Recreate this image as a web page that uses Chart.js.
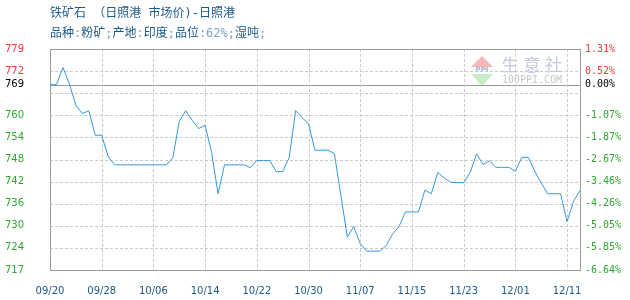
<!DOCTYPE html>
<html><head><meta charset="utf-8">
<script src="https://cdn.jsdelivr.net/npm/chart.js@4/dist/chart.umd.min.js"></script>
<style>html,body{margin:0;padding:0;background:#fff;}canvas{display:block;}</style>
</head><body>
<canvas id="c" width="630" height="300"></canvas>
<script>
const titleLine1 = '铁矿石 （日照港 市场价)-日照港';
const titleLine2 = '品种:粉矿;产地:印度;品位:62%;湿吨;';

const dates = [
 '09/20','09/21','09/22','09/23','09/24','09/25','09/26','09/27','09/28','09/29','09/30',
 '10/01','10/02','10/03','10/04','10/05','10/06','10/07','10/08','10/09','10/10','10/11','10/12','10/13','10/14','10/15','10/16','10/17','10/18','10/19','10/20','10/21','10/22','10/23','10/24','10/25','10/26','10/27','10/28','10/29','10/30','10/31',
 '11/01','11/02','11/03','11/04','11/05','11/06','11/07','11/08','11/09','11/10','11/11','11/12','11/13','11/14','11/15','11/16','11/17','11/18','11/19','11/20','11/21','11/22','11/23','11/24','11/25','11/26','11/27','11/28','11/29','11/30',
 '12/01','12/04','12/05','12/06','12/07','12/08','12/09','12/10','12/11','12/12','12/13'
];

const prices = [
 769, 769, 773.8, 769.2, 763.2, 760.9, 761.7, 754.8, 754.8, 748.8,
 746.5, 746.5, 746.5, 746.5, 746.5, 746.5, 746.5, 746.5, 746.5, 748.5,
 758.7, 761.7, 759.0, 756.7, 757.6, 750.0, 738.4, 746.5, 746.5, 746.5,
 746.5, 745.7, 747.7, 747.7, 747.7, 744.6, 744.6, 748.5, 761.7, 759.8,
 757.9, 750.6, 750.6, 750.6, 749.7, 738.0, 726.2, 729.2, 724.4, 722.3,
 722.3, 722.3, 723.8, 727.1, 729.2, 733.3, 733.3, 733.3, 739.4, 738.4,
 744.4, 742.8, 741.6, 741.5, 741.5, 744.3, 749.6, 746.6, 747.6, 745.8,
 745.8, 745.8, 744.7, 748.6, 748.6, 744.7, 741.4, 738.4, 738.4, 738.4,
 730.6, 736.3, 739.3
];

const xTickEvery = 8;
const yMin = 717, yMax = 779, baseValue = 769;
const yTickValues = [717, 723.2, 729.4, 735.6, 741.8, 748, 754.2, 760.4, 766.6, 769, 772.8, 779];
const leftTickLabels = ['717','724','730','736','742','748','754','760','','769','772','779'];
const rightTickLabels = ['-6.64%','-5.85%','-5.05%','-4.26%','-3.46%','-2.67%','-1.87%','-1.07%','','0.00%','0.52%','1.31%'];

const RED = '#f03a3a', GREEN = '#2fa82f', BLACK = '#000000', BLUE_TXT = '#1b5a8c';
function tickColor(ctx) {
  const v = ctx.tick ? ctx.tick.value : 0;
  if (v > baseValue) return RED;
  if (v === baseValue) return BLACK;
  return GREEN;
}

const decor = {
  id: 'decor',
  beforeDatasetsDraw(chart) {
    const {ctx, chartArea: a, scales: {x, y}} = chart;
    ctx.save();
    ctx.lineWidth = 1;
    // watermark
    ctx.fillStyle = '#f5b8b8';
    ctx.beginPath(); ctx.moveTo(471, 67); ctx.lineTo(482, 56); ctx.lineTo(493, 67); ctx.closePath(); ctx.fill();
    ctx.fillStyle = '#c6ecc8';
    ctx.beginPath(); ctx.moveTo(471, 74); ctx.lineTo(493, 74); ctx.lineTo(482, 86); ctx.closePath(); ctx.fill();
    ctx.fillStyle = '#a8b2d0';
    ctx.font = 'bold 7px "DejaVu Sans"';
    ctx.textAlign = 'center'; ctx.textBaseline = 'middle';
    ctx.fillText('PPI', 482, 70.5);
    ctx.fillStyle = '#c4c9e0';
    ctx.font = '17px "Noto Sans CJK SC"';
    ['生','意','社'].forEach((c, i) => ctx.fillText(c, 510 + i * 21.7, 65));
    ctx.fillStyle = '#c6c6c6';
    ctx.font = '10px "DejaVu Sans Mono"';
    ctx.fillText('100PPI.COM', 532, 80.5);
    // horizontal grid
    yTickValues.forEach(v => {
      if (v === yMin || v === yMax) return;
      const py = Math.round(y.getPixelForValue(v)) + 0.5;
      if (v === baseValue) { ctx.setLineDash([]); ctx.strokeStyle = '#9a9a9a'; }
      else { ctx.setLineDash([3, 2]); ctx.strokeStyle = '#cacaca'; }
      ctx.beginPath(); ctx.moveTo(a.left, py); ctx.lineTo(a.right, py); ctx.stroke();
    });
    // vertical grid
    ctx.setLineDash([3, 2]); ctx.strokeStyle = '#cacaca';
    dates.forEach((d, i) => {
      if (i === 0 || i % xTickEvery) return;
      const px = Math.round(x.getPixelForValue(i)) + 0.5;
      ctx.beginPath(); ctx.moveTo(px, a.top); ctx.lineTo(px, a.bottom); ctx.stroke();
    });
    // border
    ctx.setLineDash([]); ctx.strokeStyle = '#9a9a9a';
    ctx.strokeRect(Math.round(a.left) + 0.5, Math.round(a.top) + 0.5, Math.round(a.right - a.left), Math.round(a.bottom - a.top));
    ctx.restore();
  },
  afterDraw(chart) {
    const ctx = chart.ctx;
    ctx.save();
    ctx.font = '12px "DejaVu Sans Mono", "Noto Sans CJK SC"';
    ctx.textBaseline = 'middle'; ctx.textAlign = 'left';
    const drawLine = (txt, x0, yy) => {
      let xx = x0;
      for (const ch of txt) {
        ctx.fillStyle = /[:;0-9%]/.test(ch) ? '#7ba2c2' : BLUE_TXT;
        ctx.fillText(ch, xx, yy);
        xx += ctx.measureText(ch).width;
      }
    };
    drawLine(titleLine1, 50, 14);
    drawLine(titleLine2, 50, 34);
    ctx.restore();
  }
};

new Chart(document.getElementById('c'), {
  type: 'line',
  data: {
    labels: dates,
    datasets: [{
      data: prices,
      borderColor: '#3399dd',
      borderWidth: 1,
      pointRadius: 0,
      tension: 0,
      fill: false
    }]
  },
  options: {
    responsive: false,
    animation: false,
    devicePixelRatio: 1,
    layout: { padding: { left: 5, right: 0, top: 49, bottom: 0 } },
    plugins: { legend: { display: false }, tooltip: { enabled: false } },
    scales: {
      x: {
        type: 'category',
        offset: false,
        grid: { display: false },
        border: { display: false },
        afterFit(s) { s.height = 30; },
        ticks: {
          autoSkip: false, maxRotation: 0, minRotation: 0, padding: 7,
          color: BLUE_TXT,
          font: { family: 'DejaVu Sans', size: 10 },
          callback: (v, i) => (i % xTickEvery === 0 ? dates[i] : '')
        }
      },
      y: {
        position: 'left',
        min: yMin, max: yMax,
        grid: { display: false },
        border: { display: false },
        afterBuildTicks(s) { s.ticks = yTickValues.map(v => ({ value: v })); },
        afterFit(s) { s.width = 45; },
        ticks: {
          autoSkip: false, crossAlign: 'far',
          color: tickColor,
          font: { family: 'DejaVu Sans', size: 10 },
          callback: (v, i) => leftTickLabels[i]
        }
      },
      y2: {
        position: 'right',
        min: yMin, max: yMax,
        grid: { display: false, drawTicks: false },
        border: { display: false },
        afterBuildTicks(s) { s.ticks = yTickValues.map(v => ({ value: v })); },
        afterFit(s) { s.width = 50; },
        ticks: {
          autoSkip: false, crossAlign: 'near', padding: 5,
          color: tickColor,
          font: { family: 'DejaVu Sans Mono', size: 10 },
          callback: (v, i) => rightTickLabels[i]
        }
      }
    }
  },
  plugins: [decor]
});
</script>
</body></html>
